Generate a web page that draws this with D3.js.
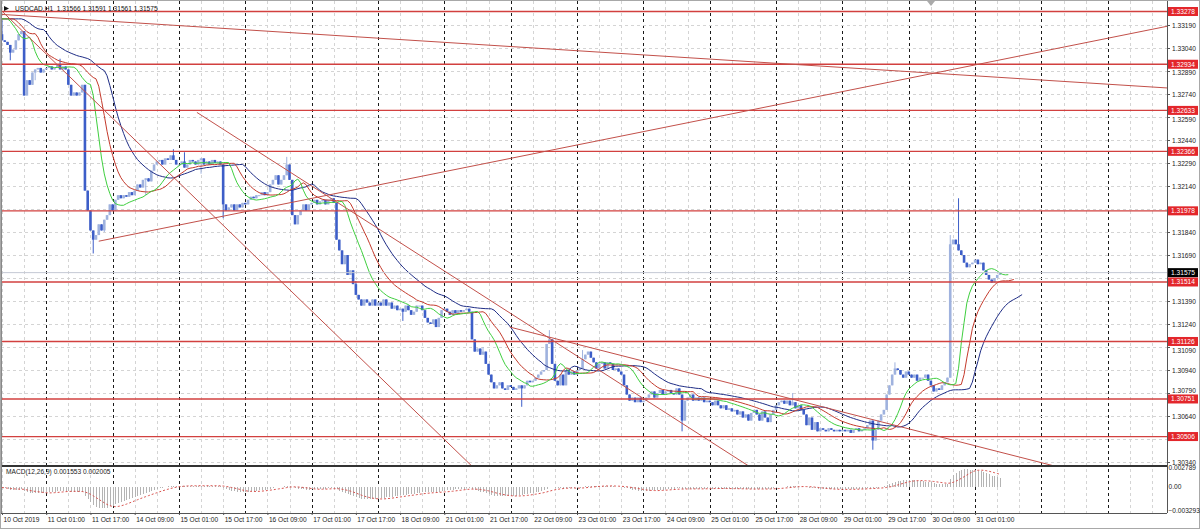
<!DOCTYPE html>
<html><head><meta charset="utf-8">
<script src="https://cdn.jsdelivr.net/npm/d3@7"></script>
<style>body{margin:0;background:#fff}svg{display:block}text{font-family:"Liberation Sans",Arial,sans-serif}</style>
</head><body><svg id="c" width="1200" height="529"></svg>
<script>
// ---------- data ----------
const symbol = "USDCAD,H1";
const headerOHLC = [1.31566, 1.31591, 1.31561, 1.31575];
const firstOpen = 1.3313;
// hourly closes, 10 Oct 2019 09:00 -> 31 Oct 2019 10:00
const close = [
1.3309,1.3308,1.3306,1.3301,1.3303,1.3309,1.3313,1.3315,1.3273,1.3283,1.3280,1.3288,1.3290,1.3291,1.3288,1.3290,
1.3291,1.3292,1.3290,1.3291,1.3293,1.3290,1.3292,1.3290,1.3280,1.3273,1.3275,1.3273,1.3275,1.3280,1.3211,1.3198,
1.3185,1.3179,1.3182,1.3189,1.3185,1.3192,1.3195,1.3202,1.3198,1.3205,1.3208,1.3206,1.3208,1.3207,1.3210,1.3208,
1.3211,1.3215,1.3213,1.3218,1.3219,1.3217,1.3224,1.3228,1.3230,1.3231,1.3228,1.3232,1.3231,1.3234,1.3231,1.3228,
1.3228,1.3230,1.3226,1.3228,1.3231,1.3230,1.3228,1.3231,1.3232,1.3228,1.3230,1.3228,1.3231,1.3229,1.3230,1.3228,
1.3202,1.3198,1.3200,1.3202,1.3198,1.3202,1.3200,1.3203,1.3202,1.3205,1.3207,1.3206,1.3208,1.3208,1.3210,1.3208,
1.3210,1.3215,1.3218,1.3221,1.3215,1.3218,1.3221,1.3228,1.3218,1.3195,1.3189,1.3195,1.3198,1.3202,1.3198,1.3202,
1.3203,1.3205,1.3202,1.3204,1.3205,1.3202,1.3205,1.3206,1.3203,1.3179,1.3172,1.3163,1.3169,1.3156,1.3159,1.3150,
1.3143,1.3140,1.3136,1.3140,1.3138,1.3136,1.3140,1.3136,1.3138,1.3136,1.3140,1.3136,1.3138,1.3134,1.3136,1.3133,
1.3134,1.3132,1.3136,1.3133,1.3130,1.3132,1.3136,1.3136,1.3133,1.3128,1.3125,1.3124,1.3127,1.3122,1.3128,1.3133,
1.3134,1.3132,1.3130,1.3133,1.3131,1.3133,1.3132,1.3133,1.3134,1.3132,1.3114,1.3106,1.3108,1.3104,1.3106,1.3098,
1.3091,1.3086,1.3082,1.3084,1.3086,1.3082,1.3081,1.3084,1.3083,1.3081,1.3082,1.3084,1.3082,1.3084,1.3087,1.3086,
1.3087,1.3089,1.3091,1.3093,1.3094,1.3111,1.3114,1.3098,1.3087,1.3084,1.3091,1.3084,1.3094,1.3091,1.3093,1.3091,
1.3094,1.3095,1.3101,1.3104,1.3106,1.3102,1.3099,1.3095,1.3098,1.3099,1.3095,1.3099,1.3098,1.3094,1.3095,1.3093,
1.3091,1.3084,1.3078,1.3074,1.3076,1.3073,1.3076,1.3073,1.3074,1.3076,1.3078,1.3080,1.3076,1.3079,1.3081,1.3078,
1.3080,1.3081,1.3079,1.3078,1.3082,1.3078,1.3061,1.3074,1.3076,1.3078,1.3074,1.3076,1.3074,1.3076,1.3073,1.3074,
1.3073,1.3071,1.3074,1.3071,1.3069,1.3071,1.3068,1.3069,1.3067,1.3068,1.3065,1.3067,1.3063,1.3065,1.3061,1.3066,
1.3068,1.3065,1.3061,1.3067,1.3063,1.3060,1.3065,1.3068,1.3071,1.3073,1.3074,1.3072,1.3074,1.3071,1.3073,1.3069,
1.3071,1.3068,1.3065,1.3058,1.3063,1.3055,1.3060,1.3054,1.3056,1.3055,1.3054,1.3056,1.3055,1.3054,1.3055,1.3054,
1.3055,1.3054,1.3055,1.3053,1.3055,1.3056,1.3054,1.3055,1.3056,1.3058,1.3061,1.3048,1.3055,1.3061,1.3065,1.3068,
1.3078,1.3084,1.3091,1.3095,1.3094,1.3091,1.3089,1.3093,1.3091,1.3089,1.3091,1.3087,1.3089,1.3089,1.3091,1.3087,
1.3084,1.3080,1.3082,1.3081,1.3084,1.3086,1.3089,1.3176,1.3179,1.3176,1.3172,1.3169,1.3164,1.3161,1.3163,1.3164,
1.3166,1.3163,1.3164,1.3159,1.3156,1.3153,1.3151,1.3154,1.3156,1.31575
];
// bars whose wick reaches beyond the body: [bar, high, low]
const wicks = [[0,1.3322,null],[3,null,1.3296],[12,null,1.3283],[21,1.3297,null],[33,null,1.3170],[37,null,1.3184],
  [52,null,1.3208],[62,1.3238,null],[66,1.3236,null],[72,null,1.3222],[80,null,1.3193],[103,1.3233,null],
  [128,1.3152,null],[145,null,1.3126],[174,1.3109,null],[188,null,1.3070],[198,1.3120,null],[210,1.3107,null],
  [246,null,1.3054],[286,1.3079,null],[315,null,1.3042],[323,1.3099,null],[343,1.3182,null],[346,1.3206,null]];
const priorLevel = 1.3323; // level of the indicators just before the first visible bar

const timeLabels = ["10 Oct 2019","11 Oct 01:00","11 Oct 17:00","14 Oct 09:00","15 Oct 01:00","15 Oct 17:00",
 "16 Oct 09:00","17 Oct 01:00","17 Oct 17:00","18 Oct 09:00","21 Oct 01:00","21 Oct 17:00","22 Oct 09:00",
 "23 Oct 01:00","23 Oct 17:00","24 Oct 09:00","25 Oct 01:00","25 Oct 17:00","28 Oct 09:00","29 Oct 01:00",
 "29 Oct 17:00","30 Oct 09:00","31 Oct 01:00"];
const barsPerLabel = 16;
const priceTicks = [1.30340,1.30490,1.30640,1.30790,1.30940,1.31090,1.31240,1.31390,1.31540,1.31690,
 1.31840,1.31990,1.32140,1.32290,1.32440,1.32590,1.32740,1.32890,1.33040,1.33190];
const levels = [1.33278,1.32934,1.32633,1.32366,1.31978,1.31514,1.31126,1.30751,1.30506];
const bidPrice = 1.31575;
// trend lines: [startBar, startPrice, endBar, endPrice] (extended to the right as rays)
const trendLines = [
 [-1, 1.3326, 421, 1.3278],
 [35, 1.3178, 421, 1.3318],
 [0, 1.3328, 169, 1.3033],
 [70.5, 1.3262, 268.7, 1.3033],
 [183.7, 1.3122, 377.2, 1.3033]
];
const macdRange = [-0.003293, 0.002789];
const macdTicks = [0.002789, 0, -0.003293];
const macdText = "MACD(12,26,9) 0.001553 0.002005";

// ---------- layout ----------
const L = 1, R = 1167, T = 1, MB = 465, MT = 467, BB = 513;
const FONT = 6.6;
const x = d3.scaleLinear().domain([0, close.length - 1]).range([2, 1000]);
const y = d3.scaleLinear().domain([1.3034, 1.3319]).range([462, 25]);
const ym = d3.scaleLinear().domain(macdRange).range([510, 467]);

const svg = d3.select("#c");
svg.append("rect").attr("width",1200).attr("height",529).attr("fill","#fff");
const defs = svg.append("defs");
defs.append("clipPath").attr("id","mc").append("rect").attr("x",L).attr("y",T).attr("width",R-L).attr("height",MB-T);
defs.append("clipPath").attr("id","dc").append("rect").attr("x",L).attr("y",MT).attr("width",R-L).attr("height",BB-MT);

// bars
const bars = close.map((c,i)=>{
  const o = i ? close[i-1] : firstOpen;
  let hi = Math.max(o,c), lo = Math.min(o,c);
  const w = wicks.find(d=>d[0]===i);
  if (w) { if (w[1]!=null) hi = Math.max(hi,w[1]); if (w[2]!=null) lo = Math.min(lo,w[2]); }
  return {i,o,c,hi,lo};
});

// grid
const gridIdx = d3.range(0, 53).map(k=>k*8);
const isMajor = d => ((d/8)%3)===2;
svg.append("g").attr("shape-rendering","crispEdges").selectAll("line").data(gridIdx).join("line")
  .attr("x1",d=>Math.round(x(d))+0.5).attr("x2",d=>Math.round(x(d))+0.5)
  .attr("y1",T).attr("y2",BB)
  .attr("stroke",d=>isMajor(d)?"#1a1a1a":"#d4d4d4")
  .attr("stroke-dasharray","3,3").attr("stroke-width",1);
svg.append("g").attr("shape-rendering","crispEdges").selectAll("line").data(priceTicks).join("line")
  .attr("x1",L).attr("x2",R).attr("y1",d=>Math.round(y(d))+0.5).attr("y2",d=>Math.round(y(d))+0.5)
  .attr("stroke","#d4d4d4").attr("stroke-dasharray","3,3");

const main = svg.append("g").attr("clip-path","url(#mc)");

// candles
const bull = "#9fb2de", bear = "#3d5ec8";
main.append("g").selectAll("line").data(bars).join("line")
  .attr("x1",d=>x(d.i)).attr("x2",d=>x(d.i)).attr("y1",d=>y(d.hi)).attr("y2",d=>y(d.lo))
  .attr("stroke",d=>d.c>=d.o?bull:bear).attr("stroke-width",1);
main.append("g").selectAll("rect").data(bars).join("rect")
  .attr("x",d=>x(d.i)-1.3).attr("width",2.6)
  .attr("y",d=>y(Math.max(d.o,d.c)))
  .attr("height",d=>Math.max(1,y(Math.min(d.o,d.c))-y(Math.max(d.o,d.c))))
  .attr("fill",d=>d.c>=d.o?bull:bear);

// Alligator (SMMA of median price, shifted forward)
const median = bars.map(b=>(b.hi+b.lo)/2);
function smma(v,n,seed){let s=seed;return v.map(p=>(s=(s*(n-1)+p)/n));}
const gator = [{n:13,shift:8,color:"#1f2d86"},{n:8,shift:5,color:"#c43a2c"},{n:5,shift:3,color:"#3fcf3f"}];
gator.forEach(gd=>{
  const s = smma(median, gd.n, priorLevel);
  const pts = d3.range(0, close.length+gd.shift).map(j=>[j, j-gd.shift<0?priorLevel:s[j-gd.shift]]);
  main.append("path").datum(pts).attr("fill","none").attr("stroke",gd.color).attr("stroke-width",1)
    .attr("d", d3.line().x(d=>x(d[0])).y(d=>y(d[1])));
});

// horizontal levels
main.append("g").selectAll("line").data(levels).join("line")
  .attr("x1",L).attr("x2",R).attr("y1",d=>y(d)).attr("y2",d=>y(d))
  .attr("stroke","#d2403f").attr("stroke-width",1.3);
// bid line
main.append("line").attr("x1",L).attr("x2",R).attr("y1",y(bidPrice)).attr("y2",y(bidPrice))
  .attr("stroke","#c4c8d4").attr("stroke-width",1);
// trend lines (rays)
main.append("g").selectAll("line").data(trendLines).join("line")
  .each(function(d){
    const [b1,p1,b2,p2] = d; const bEnd = 440;
    const pEnd = p1 + (p2-p1)*(bEnd-b1)/(b2-b1);
    d3.select(this).attr("x1",x(b1)).attr("y1",y(p1)).attr("x2",x(bEnd)).attr("y2",y(pEnd));
  })
  .attr("stroke","#c2504a").attr("stroke-width",1);

// MACD
const ema=(v,n,seed)=>{const k=2/(n+1);let e=seed;return v.map(p=>(e=e+k*(p-e)));};
const e12 = ema(close,12,priorLevel), e26 = ema(close,26,priorLevel);
const macd = close.map((_,i)=>e12[i]-e26[i]);
const signal = macd.map((_,i)=>d3.mean(macd.slice(Math.max(0,i-8),i+1)));
const md = svg.append("g").attr("clip-path","url(#dc)");
md.append("g").attr("shape-rendering","crispEdges").selectAll("line").data(macd).join("line")
  .attr("x1",(d,i)=>Math.round(x(i))+0.5).attr("x2",(d,i)=>Math.round(x(i))+0.5)
  .attr("y1",ym(0)).attr("y2",d=>ym(d)).attr("stroke","#b4b4b4").attr("stroke-width",1);
md.append("path").datum(signal).attr("fill","none").attr("stroke","#d9534f").attr("stroke-width",1)
  .attr("stroke-dasharray","2,2").attr("d",d3.line().x((d,i)=>x(i)).y(d=>ym(d)));
svg.append("text").attr("x",6).attr("y",474).attr("font-size",FONT).attr("fill","#222").text(macdText);

// frame
svg.append("line").attr("x1",L).attr("x2",R).attr("y1",466).attr("y2",466).attr("stroke","#333").attr("stroke-width",2);
svg.append("line").attr("x1",L).attr("x2",R).attr("y1",BB+0.5).attr("y2",BB+0.5).attr("stroke","#555");
svg.append("line").attr("x1",R+0.5).attr("x2",R+0.5).attr("y1",T).attr("y2",BB).attr("stroke","#555");
svg.append("rect").attr("x",0.5).attr("y",0.5).attr("width",1199).attr("height",528).attr("fill","none").attr("stroke","#a8a8a8");
svg.append("line").attr("x1",L+0.5).attr("x2",L+0.5).attr("y1",T).attr("y2",BB).attr("stroke","#888");

// price axis (labels that sit under a level tag are pushed just clear of it, or hidden when fully covered)
const tagYs = levels.concat([bidPrice]).map(v=>y(v));
const pa = svg.append("g").attr("transform",`translate(${R},0)`)
  .call(d3.axisRight(y).tickValues(priceTicks).tickFormat(d3.format(".5f")).tickSize(3).tickPadding(2));
pa.select(".domain").remove();
pa.selectAll("line").attr("stroke","#555");
pa.selectAll("text").attr("font-size",FONT).attr("fill","#222").attr("font-family","Liberation Sans, Arial, sans-serif")
  .each(function(d){
    const ty = y(d);
    const near = tagYs.filter(t=>Math.abs(t-ty)<8.5);
    if (!near.length) return;
    if (near.length>1 || near.some(t=>Math.abs(t-ty)<2.5)) { d3.select(this).attr("display","none"); return; }
    const t = near[0];
    const off = (ty < t ? (t-8.5) : (t+8.5)) - ty;
    d3.select(this).attr("y", off);
  });
// MACD axis
const ma = svg.append("g").attr("transform",`translate(${R},0)`)
  .call(d3.axisRight(ym).tickValues(macdTicks).tickFormat(d=>d===0?"0.00":d3.format(".6f")(d)).tickSize(0).tickPadding(1.5));
ma.select(".domain").remove();
ma.selectAll("text").attr("font-size",FONT).attr("fill","#222").attr("font-family","Liberation Sans, Arial, sans-serif");

// level tags
const tag = svg.append("g");
levels.forEach(v=>{
  tag.append("rect").attr("x",R+1).attr("y",y(v)-4.5).attr("width",30).attr("height",9).attr("fill","#e3262b");
  tag.append("text").attr("x",R+16).attr("y",y(v)).attr("dy","0.35em").attr("text-anchor","middle")
    .attr("font-size",FONT).attr("fill","#fff").text(d3.format(".5f")(v));
});
tag.append("rect").attr("x",R+1).attr("y",y(bidPrice)-4.5).attr("width",30).attr("height",9).attr("fill","#000");
tag.append("text").attr("x",R+16).attr("y",y(bidPrice)).attr("dy","0.35em").attr("text-anchor","middle")
  .attr("font-size",FONT).attr("fill","#fff").text(d3.format(".5f")(bidPrice));

// time axis
const tIdx = timeLabels.map((_,k)=>k*barsPerLabel);
const ta = svg.append("g").attr("transform",`translate(0,${BB})`)
  .call(d3.axisBottom(x).tickValues(tIdx).tickFormat((d,i)=>timeLabels[i]).tickSize(2).tickPadding(2));
ta.select(".domain").remove();
ta.selectAll("line").attr("stroke","#555");
ta.selectAll("text").attr("font-size",FONT).attr("fill","#222").attr("text-anchor","start").attr("dx","1")
  .attr("font-family","Liberation Sans, Arial, sans-serif");

// header
svg.append("path").attr("d","M4,6 L9,8.5 L4,11 Z").attr("fill","#111");
svg.append("text").attr("x",15).attr("y",11).attr("font-size",FONT).attr("fill","#111")
  .style("white-space","pre").attr("xml:space","preserve")
  .text(symbol + "  " + headerOHLC.map(d3.format(".5f")).join(" "));
// chart shift marker
svg.append("path").attr("d","M927,1 L935,1 L931,6 Z").attr("fill","#aaa");
</script></body></html>
